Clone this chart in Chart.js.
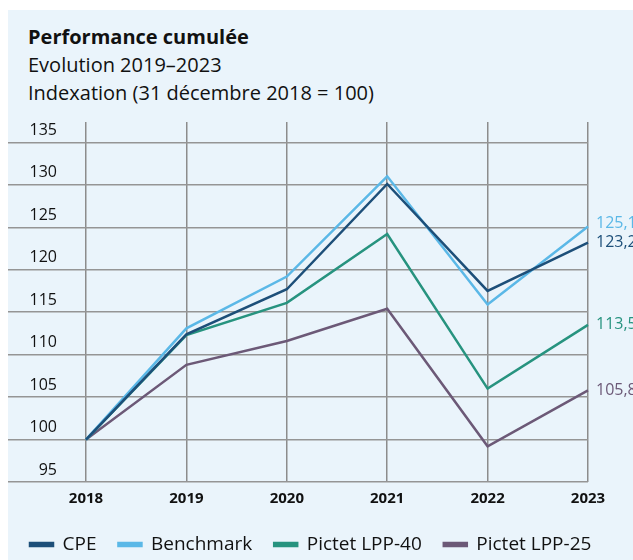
<html><head><meta charset="UTF-8"><title>Performance cumulée</title>
<style>
body { margin: 0; background: #fff; overflow: hidden; font-family: "Open Sans", sans-serif; }
.panel { position: absolute; left: 8px; top: 10px; width: 625px; height: 560px; background: #eaf4fb; overflow: hidden; }
.titre { position: absolute; left: 20px; top: 13px; font-size: 20px; line-height: 28px; color: #111; white-space: nowrap; }
.titre b { font-weight: 700; }
.zone { position: absolute; left: 0; top: 102px; width: 625px; height: 452px; }
</style>
<script src="https://cdn.jsdelivr.net/npm/chart.js"></script>
</head>
<body>
<div class="panel">
  <div class="titre"><b>Performance cumulée</b><br>Evolution 2019–2023<br>Indexation (31 décembre 2018 = 100)</div>
  <div class="zone"><canvas id="perfChart"></canvas></div>
</div>
<script>
const annees = ['2018', '2019', '2020', '2021', '2022', '2023'];
const cpe = [100, 112.4, 117.7, 130.1, 117.5, 123.2];
const benchmark = [100, 113.1, 119.2, 131.0, 115.9, 125.1];
const lpp40 = [100, 112.3, 116.1, 124.2, 106.0, 113.5];
const lpp25 = [100, 108.8, 111.6, 115.4, 99.2, 105.8];
const graduations = [95, 100, 105, 110, 115, 120, 125, 130, 135];

const couleurs = ['#1d4f79', '#5bb8e7', '#27937f', '#6c5977'];
const police = '"Open Sans", sans-serif';

// valeur finale écrite à droite de chaque courbe
const etiquettesFin = {
    id: 'etiquettesFin',
    afterDatasetsDraw(chart) {
        const ctx = chart.ctx;
        ctx.save();
        ctx.font = '16px ' + police;
        ctx.textAlign = 'left';
        ctx.textBaseline = 'middle';
        chart.data.datasets.forEach((ds, i) => {
            const meta = chart.getDatasetMeta(i);
            const pt = meta.data[meta.data.length - 1];
            const v = ds.data[ds.data.length - 1];
            ctx.fillStyle = ds.borderColor;
            ctx.fillText(v.toFixed(1).replace('.', ','), pt.x + 8, pt.y - (i === 1 ? 3 : 0));
        });
        ctx.restore();
    }
};

function serie(label, data, couleur) {
    return {
        label: label,
        data: data,
        borderColor: couleur,
        backgroundColor: couleur,
        borderWidth: 2.5,
        pointRadius: 0,
        tension: 0,
        fill: false
    };
}

const ctx = document.getElementById('perfChart').getContext('2d');
new Chart(ctx, {
    type: 'line',
    data: {
        labels: annees,
        datasets: [
            serie('CPE', cpe, couleurs[0]),
            serie('Benchmark', benchmark, couleurs[1]),
            serie('Pictet LPP-40', lpp40, couleurs[2]),
            serie('Pictet LPP-25', lpp25, couleurs[3])
        ]
    },
    options: {
        responsive: true,
        maintainAspectRatio: false,
        animation: false,
        layout: { padding: { top: 10, right: 0, left: 0, bottom: 0 } },
        scales: {
            x: {
                afterFit: s => { s.height = 31; },
                grid: { color: '#8c8c8c', lineWidth: 1.5, drawTicks: false },
                border: { display: false },
                ticks: { color: '#111', padding: 8, font: { family: police, size: 15, weight: 'bold' } }
            },
            y: {
                min: 95,
                max: 137.4,
                afterBuildTicks: s => { s.ticks = graduations.map(v => ({ value: v })); },
                afterFit: s => { s.width = 78; },
                grid: { color: '#959595', lineWidth: 1.5, tickLength: 78, tickColor: '#959595' },
                border: { display: false },
                ticks: { color: '#111', padding: -49, labelOffset: -12, font: { family: police, size: 16 } }
            },
            // axe vide à droite : réserve la place des valeurs finales
            droite: {
                position: 'right',
                min: 95,
                max: 137.4,
                afterFit: s => { s.width = 45; },
                grid: { display: false },
                border: { display: false },
                ticks: { display: false }
            }
        },
        plugins: {
            legend: {
                position: 'bottom',
                align: 'start',
                labels: {
                    boxWidth: 23,
                    boxHeight: 3,
                    padding: 22,
                    color: '#111',
                    font: { family: police, size: 19 }
                }
            },
            tooltip: { enabled: false }
        }
    },
    plugins: [etiquettesFin]
});
</script>
</body></html>
